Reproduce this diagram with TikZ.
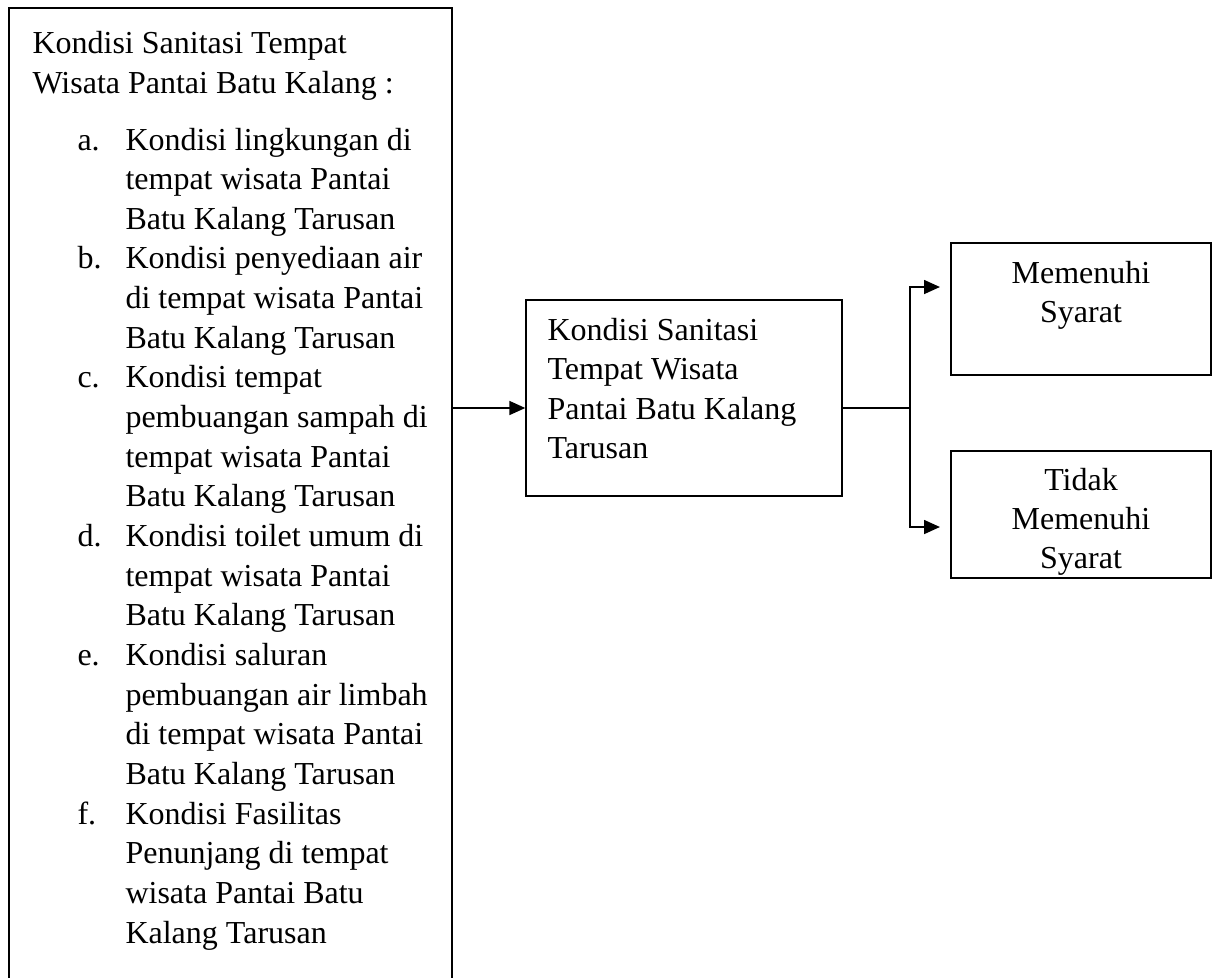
\documentclass[tikz,border=0pt]{standalone}
\usepackage{fontspec}
\setmainfont{Liberation Serif}
\usetikzlibrary{fit,arrows.meta}
\begin{document}
\begin{tikzpicture}[x=0.375pt,y=-0.375pt,
  box/.style={draw=black,line width=0.5pt,rectangle,inner sep=0pt},
  txt/.style={anchor=base west,inner sep=0pt,font=\fontsize{12}{14}\selectfont},
  ctxt/.style={anchor=base,inner sep=0pt,font=\fontsize{12}{14}\selectfont},
  conn/.style={line width=0.8pt},
  arr/.style={line width=0.8pt,-{Triangle[length=6pt,width=5.2pt]}}]
\useasboundingbox (0,0) rectangle (1214,977);
\clip (0,0) rectangle (1214,977);
% boxes
\node[box,fit={(9,8) (452,1010)}] (L) {};
\node[box,fit={(526,300) (842,496)}] (M) {};
\node[box,fit={(951,243) (1211,375)}] (T) {};
\node[box,fit={(951,451) (1211,578)}] (B) {};
% left box text
\node[txt] (h1) at (32,53) {Kondisi Sanitasi Tempat};
\node[txt] (h2) at (32,93) {Wisata Pantai Batu Kalang :};
\foreach \t [count=\k from 0] in {Kondisi lingkungan di,tempat wisata Pantai,Batu Kalang Tarusan,
  Kondisi penyediaan air,di tempat wisata Pantai,Batu Kalang Tarusan,
  Kondisi tempat,pembuangan sampah di,tempat wisata Pantai,Batu Kalang Tarusan,
  Kondisi toilet umum di,tempat wisata Pantai,Batu Kalang Tarusan,
  Kondisi saluran,pembuangan air limbah,di tempat wisata Pantai,Batu Kalang Tarusan,
  Kondisi Fasilitas,Penunjang di tempat,wisata Pantai Batu,Kalang Tarusan}
  \node[txt] (i\k) at (125,150+39.65*\k) {\t};
\foreach \l/\k in {a./0,b./3,c./6,d./10,e./13,f./17}
  \node[txt] (lab\k) at (77,150+39.65*\k) {\l};
% middle box text
\foreach \t [count=\k from 0] in {Kondisi Sanitasi,Tempat Wisata,Pantai Batu Kalang,Tarusan}
  \node[txt] (m\k) at (547,340+39.6*\k) {\t};
% right boxes text
\node[ctxt] (t0) at (1081,283) {Memenuhi};
\node[ctxt] (t1) at (1081,322) {Syarat};
\node[ctxt] (b0) at (1081,490) {Tidak};
\node[ctxt] (b1) at (1081,529) {Memenuhi};
\node[ctxt] (b2) at (1081,568) {Syarat};
% connectors
\coordinate (J) at (910,408);
\coordinate (p1) at (940,287);
\coordinate (p2) at (940,527);
\draw[arr] (L.east |- J) -- (M.west |- J);
\draw[conn] (M.east |- J) -- (J);
\draw[arr] (J) |- (p1);
\draw[arr] (J) |- (p2);
\end{tikzpicture}
\end{document}
